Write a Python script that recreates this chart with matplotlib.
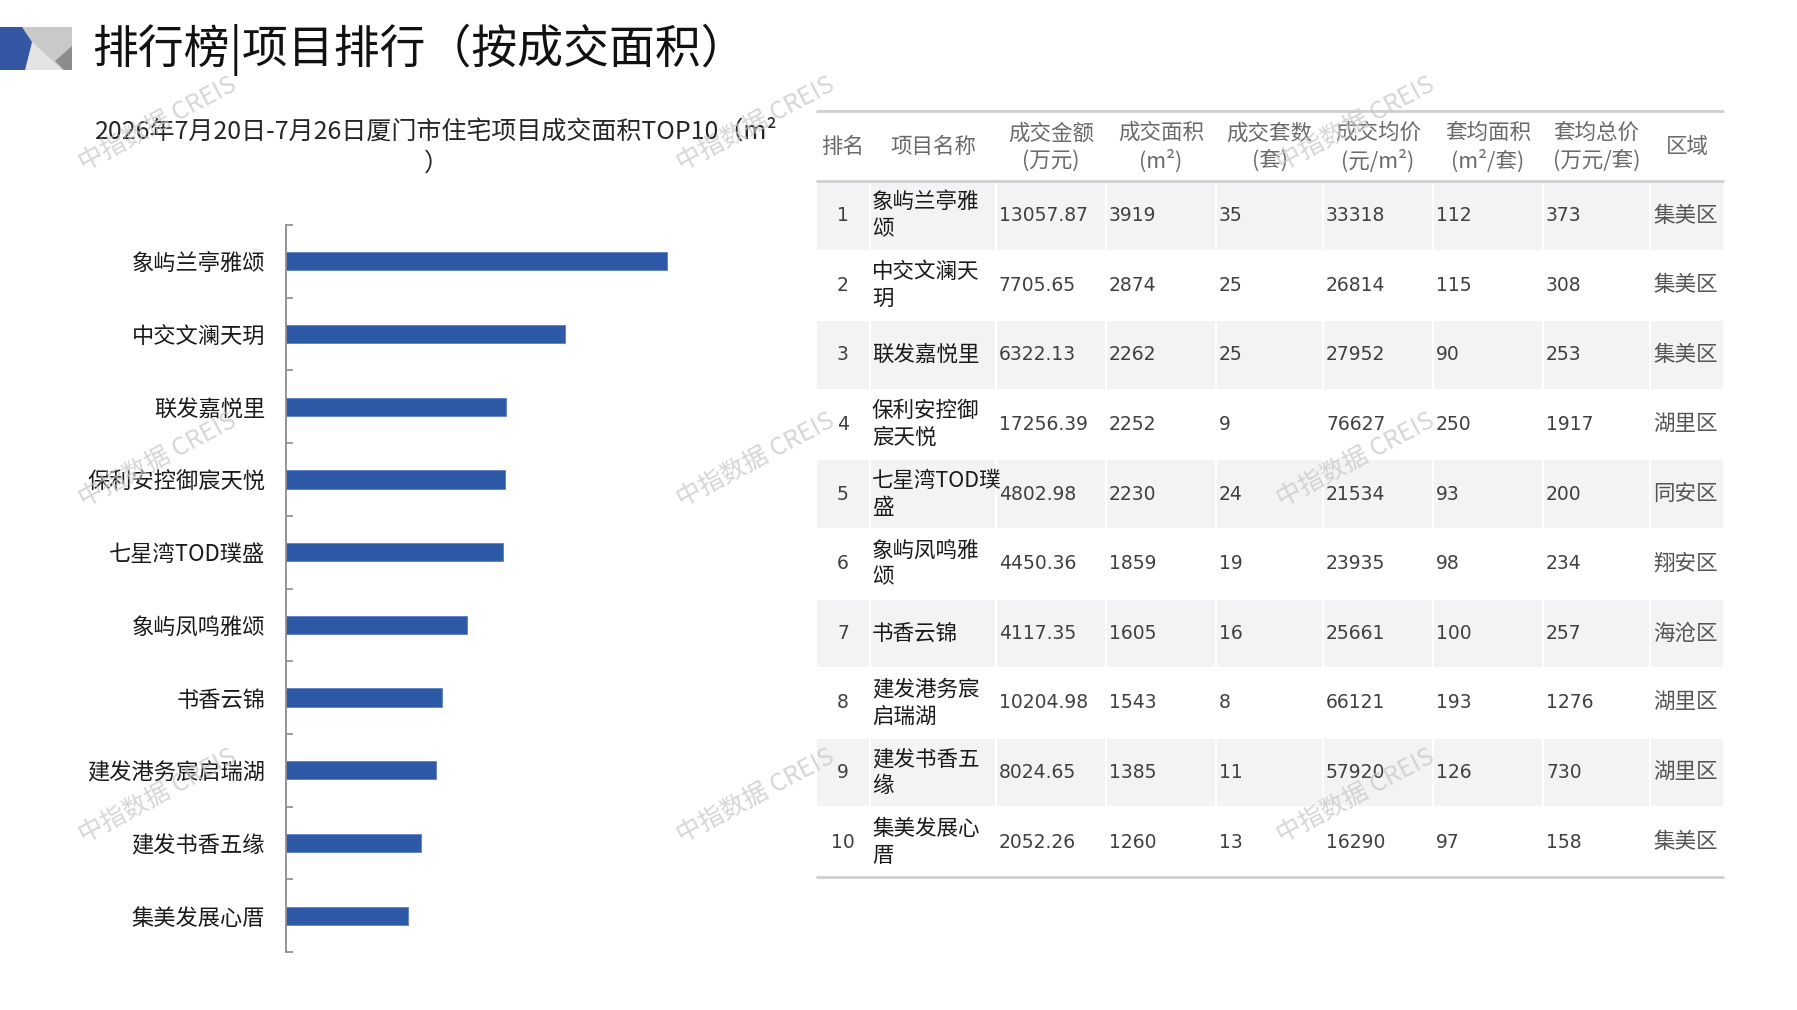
import matplotlib
matplotlib.use("Agg")
import matplotlib.pyplot as plt
from matplotlib.patches import Rectangle, Polygon
import numpy as np

plt.rcParams['font.family'] = ['Noto Sans CJK SC', 'DejaVu Sans']

# ================= 数据 =================
title = "排行榜|项目排行（按成交面积）"
subtitle = "2026年7月20日-7月26日厦门市住宅项目成交面积TOP10（m²"
subtitle_tail = "）"

ranks = [1, 2, 3, 4, 5, 6, 7, 8, 9, 10]
names = ["象屿兰亭雅颂", "中交文澜天玥", "联发嘉悦里", "保利安控御宸天悦", "七星湾TOD璞盛",
         "象屿凤鸣雅颂", "书香云锦", "建发港务宸启瑞湖", "建发书香五缘", "集美发展心厝"]
amount = [13057.87, 7705.65, 6322.13, 17256.39, 4802.98, 4450.36, 4117.35, 10204.98, 8024.65, 2052.26]
area = [3919, 2874, 2262, 2252, 2230, 1859, 1605, 1543, 1385, 1260]
units = [35, 25, 25, 9, 24, 19, 16, 8, 11, 13]
price = [33318, 26814, 27952, 76627, 21534, 23935, 25661, 66121, 57920, 16290]
avg_area = [112, 115, 90, 250, 93, 98, 100, 193, 126, 97]
avg_total = [373, 308, 253, 1917, 200, 234, 257, 1276, 730, 158]
district = ["集美区", "集美区", "集美区", "湖里区", "同安区", "翔安区", "海沧区", "湖里区", "湖里区", "集美区"]

headers = ["排名", "项目名称", "成交金额\n(万元)", "成交面积\n(m²)", "成交套数\n(套)",
           "成交均价\n(元/m²)", "套均面积\n(m²/套)", "套均总价\n(万元/套)", "区域"]

W, H = 1797, 1010
fig = plt.figure(figsize=(W / 100, H / 100), dpi=100)

# 整图像素坐标的底层画布 (y 向下)
ov = fig.add_axes([0, 0, 1, 1])
ov.set_xlim(0, W)
ov.set_ylim(H, 0)
ov.axis('off')

# 左上角标志
ov.add_patch(Rectangle((0, 27), 72, 43, color='#c9c9c9', lw=0))
ov.add_patch(Polygon([(32, 42), (25, 70), (63, 70)], closed=True, color='#e4e4e4', lw=0))
ov.add_patch(Polygon([(72, 46), (55, 61), (64, 70), (72, 70)], closed=True, color='#8c8c8c', lw=0))
ov.add_patch(Polygon([(0, 27), (22, 27), (32, 42), (25, 70), (0, 70)], closed=True, color='#3556a3', lw=0))

ov.text(92, 50, title, fontsize=33, color='#111111', ha='left', va='center')
ov.text(436, 132, subtitle, fontsize=18, color='#262626', ha='center', va='center')
ov.text(436, 164, subtitle_tail, fontsize=18, color='#262626', ha='center', va='center')

# ================= 条形图 =================
ax = fig.add_axes([286 / W, 1 - 952 / H, (760 - 286) / W, (952 - 225) / H])
ax.patch.set_alpha(0)
y = np.arange(len(names))
ax.barh(y, area, height=0.25, color='#2E59A7', edgecolor='#5b7fc4', linewidth=0.6)
ax.set_ylim(len(names) - 0.5, -0.5)
ax.set_xlim(0, 4876)
ax.set_yticks(y, names)
ax.set_yticks(np.arange(len(names) + 1) - 0.5, minor=True)
ax.tick_params(axis='y', which='major', length=0, pad=15, labelsize=16, labelcolor='#1a1a1a')
ax.tick_params(axis='y', which='minor', length=5, direction='in', color='#8c8c8c', width=1.2)
ax.set_xticks([])
for s in ['top', 'right', 'bottom']:
    ax.spines[s].set_visible(False)
ax.spines['left'].set_color('#8c8c8c')
ax.spines['left'].set_linewidth(1.3)

# ================= 表格 =================
col_edges = [816, 870, 996, 1106, 1216, 1323, 1433, 1543, 1650, 1724]
top_y, head_bot, row_h = 111, 181, 69.6
num_font = ['Liberation Sans Narrow', 'DejaVu Sans']


def wrap_name(s, limit=5.7):
    lines, cur, w = [], "", 0.0
    for ch in s:
        cw = 0.55 if ord(ch) < 128 else 1.0
        if w + cw > limit:
            lines.append(cur)
            cur, w = "", 0.0
        cur += ch
        w += cw
    lines.append(cur)
    return lines


line_kw = dict(color='#cfcfcf', lw=2, solid_capstyle='butt')
ov.plot([col_edges[0], col_edges[-1]], [top_y, top_y], **line_kw)
ov.plot([col_edges[0], col_edges[-1]], [head_bot, head_bot], **line_kw)

for j, h in enumerate(headers):
    cx = (col_edges[j] + col_edges[j + 1]) / 2
    ov.text(cx, (top_y + head_bot) / 2 + 1, h, fontsize=15.5, color='#6a6a6a',
            ha='center', va='center', linespacing=1.3)

for i in range(len(ranks)):
    y0 = head_bot + i * row_h
    yc = y0 + row_h / 2
    if i % 2 == 0:
        for j in range(len(col_edges) - 1):
            ov.add_patch(Rectangle((col_edges[j] + 1, y0 + 1), col_edges[j + 1] - col_edges[j] - 2,
                                   row_h - 2, color='#f3f3f5', lw=0))
    ov.text((col_edges[0] + col_edges[1]) / 2, yc, str(ranks[i]), fontsize=13.5,
            family=num_font, color='#404040', ha='center', va='center')
    nl = wrap_name(names[i])
    for k, ln in enumerate(nl):
        ov.text(col_edges[1] + 2, yc + (k - (len(nl) - 1) / 2) * 27, ln, fontsize=15.5,
                color='#1a1a1a', ha='left', va='center')
    vals = ["%.2f" % amount[i], str(area[i]), str(units[i]), str(price[i]),
            str(avg_area[i]), str(avg_total[i])]
    for j, v in enumerate(vals):
        ov.text(col_edges[j + 2] + 3, yc, v, fontsize=13.5, family=num_font,
                color='#404040', ha='left', va='center')
    ov.text(col_edges[8] + 3, yc, district[i], fontsize=15.5, color='#555555',
            ha='left', va='center')

bot_y = head_bot + len(ranks) * row_h
ov.plot([col_edges[0], col_edges[-1]], [bot_y, bot_y], **line_kw)

# ================= 水印 =================
for wx in [158, 756, 1356]:
    for wy in [124, 460, 796]:
        fig.text(wx / W, 1 - wy / H, "中指数据 CREIS", fontsize=18, color='#c8c8c8', alpha=0.75,
                 rotation=28, ha='center', va='center', zorder=10)

fig.savefig("out.png", dpi=100)
